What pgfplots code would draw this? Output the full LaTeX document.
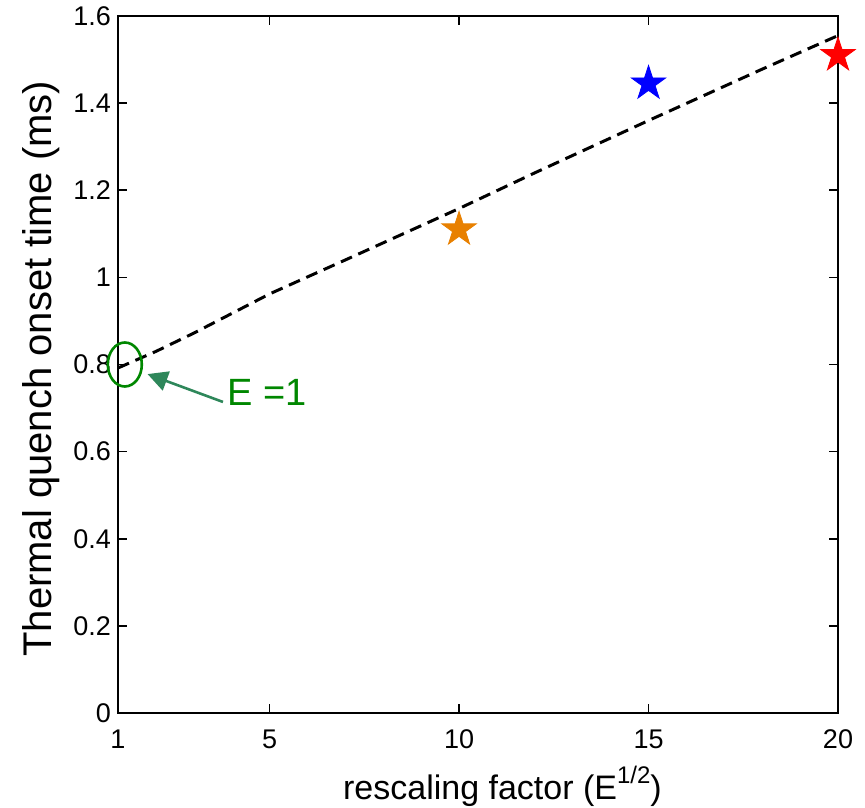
\documentclass[border=0pt]{standalone}
\usepackage{fontspec}
\setmainfont{Liberation Sans}
\usepackage{pgfplots}
\pgfplotsset{compat=1.18}
\usetikzlibrary{arrows.meta}
\definecolor{morange}{RGB}{232,128,0}
\definecolor{mgreen}{RGB}{0,135,0}
\definecolor{marrow}{RGB}{46,135,90}
\pgfdeclareplotmark{fstar}{%
  \pgfpathmoveto{\pgfpointpolar{90}{\pgfplotmarksize}}%
  \pgfpathlineto{\pgfpointpolar{126}{0.382\pgfplotmarksize}}%
  \pgfpathlineto{\pgfpointpolar{162}{\pgfplotmarksize}}%
  \pgfpathlineto{\pgfpointpolar{198}{0.382\pgfplotmarksize}}%
  \pgfpathlineto{\pgfpointpolar{234}{\pgfplotmarksize}}%
  \pgfpathlineto{\pgfpointpolar{270}{0.382\pgfplotmarksize}}%
  \pgfpathlineto{\pgfpointpolar{306}{\pgfplotmarksize}}%
  \pgfpathlineto{\pgfpointpolar{342}{0.382\pgfplotmarksize}}%
  \pgfpathlineto{\pgfpointpolar{18}{\pgfplotmarksize}}%
  \pgfpathlineto{\pgfpointpolar{54}{0.382\pgfplotmarksize}}%
  \pgfpathclose
  \pgfusepathqfillstroke
}
\begin{document}
\begin{tikzpicture}
\begin{axis}[
  scale only axis,
  width=360pt, height=348.5pt,
  xmin=1, xmax=20, ymin=0, ymax=1.6,
  enlargelimits=false,
  clip=false,
  axis line style={line width=0.8pt},
  every tick/.style={line width=0.8pt, black},
  major tick length=4.5pt,
  xtick={1,5,10,15,20},
  ytick={0,0.2,0.4,0.6,0.8,1,1.2,1.4,1.6},
  /pgf/number format/assume math mode=true,
  ticklabel style={font=\fontsize{13.5}{15}\selectfont},
  xticklabel style={yshift=-5pt},
  xlabel={rescaling factor (E\raisebox{0.45em}{\fontsize{12}{12}\selectfont 1/2})},
  ylabel={Thermal quench onset time (ms)},
  xlabel style={font=\fontsize{17}{20}\selectfont, at={(axis description cs:0.534,-0.1234)}, anchor=base},
  ylabel style={font=\fontsize{20}{24}\selectfont, at={(axis description cs:-0.0917,0.494)}, anchor=base, rotate=0},
]
\addplot[black, line width=1.5pt, dash pattern=on 6pt off 3.5pt] coordinates {
  (1,0.792) (2,0.83) (3,0.872) (5,0.962) (7,1.04) (10,1.158) (12,1.24) (15,1.36) (18,1.478) (20,1.555)
};
\addplot[only marks, mark=fstar, mark size=9pt, color=morange, fill=morange] coordinates {(10,1.11)};
\addplot[only marks, mark=fstar, mark size=9pt, color=blue, fill=blue] coordinates {(15,1.445)};
\addplot[only marks, mark=fstar, mark size=9pt, color=red, fill=red] coordinates {(20,1.51)};
\draw[mgreen, line width=1.3pt] (axis cs:1.18,0.80) ellipse [x radius=8.5pt, y radius=11pt];
\draw[marrow, line width=1.3pt, -{Triangle[length=10pt,width=10pt]}] (axis cs:3.77,0.714) -- (axis cs:1.78,0.778);
\node[mgreen, font=\fontsize{19}{22}\selectfont] at (axis cs:4.93,0.737) {E =1};
\end{axis}
\pgfresetboundingbox
\path (-59pt,-47pt) rectangle (373.5pt,356.5pt);
\end{tikzpicture}
\end{document}
